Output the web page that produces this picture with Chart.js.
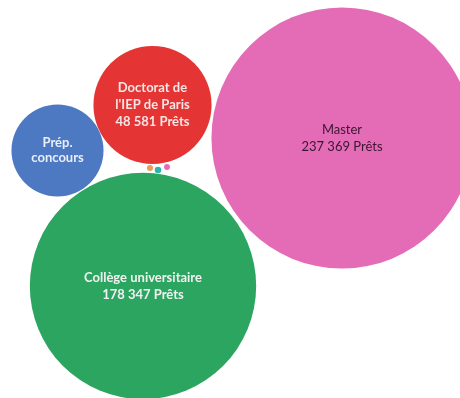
<!DOCTYPE html>
<html>
<head>
<meta charset="utf-8">
<script src="https://cdn.jsdelivr.net/npm/chart.js@4"></script>
<style>
  html, body { margin: 0; padding: 0; background: #fff; }
  #wrap { width: 460px; height: 398px; }
</style>
</head>
<body>
<div id="wrap"><canvas id="bulles"></canvas></div>
<script>
// Prêts par type de formation
const formations = ['Master', 'Collège universitaire', "Doctorat de l'IEP de Paris", 'Prép. concours', 'Autre 1', 'Autre 2', 'Autre 3'];
const prets = [237369, 178347, 48581, 29500, 130, 150, 120];
const etiquettes = [
  ['Master', '237 369 Prêts'],
  ['Collège universitaire', '178 347 Prêts'],
  ['Doctorat de', "l'IEP de Paris", '48 581 Prêts'],
  ['Prép.', 'concours'],
  [], [], []
];
// position des bulles (unités des axes)
const posX = [342, 143, 152.5, 57.5, 150, 158, 167];
const posY = [138, 286, 105, 150.5, 168, 170, 167];
const couleurs = ['#E46CB6', '#2CA560', '#E43434', '#4C79C1', '#EE9A5A', '#2DB3A6', '#E46CB6'];
const couleursTexte = ['#3B1530', '#F2F2F2', '#F4E6E6', '#E8EEF8', '#fff', '#fff', '#fff'];

const k = 0.268; // rayon = k * racine(prêts)

const labelsPlugin = {
  id: 'etiquettes',
  afterDatasetsDraw(chart) {
    const ctx = chart.ctx;
    const meta = chart.getDatasetMeta(0);
    ctx.save();
    ctx.textAlign = 'center';
    ctx.textBaseline = 'middle';
    meta.data.forEach((pt, i) => {
      const lignes = etiquettes[i];
      if (!lignes.length) return;
      const lh = i === 3 ? 15 : 17;
      ctx.font = (i === 0 ? '' : 'bold ') + '13px Lato, "Open Sans", sans-serif';
      ctx.fillStyle = couleursTexte[i];
      const y0 = pt.y - (lignes.length - 1) * lh / 2;
      lignes.forEach((t, j) => ctx.fillText(t, pt.x, y0 + j * lh));
    });
    ctx.restore();
  }
};

new Chart(document.getElementById('bulles'), {
  type: 'bubble',
  data: {
    labels: formations,
    datasets: [{
      data: prets.map((v, i) => ({ x: posX[i], y: posY[i], r: k * Math.sqrt(v) })),
      backgroundColor: couleurs,
      borderWidth: 0,
      hoverBorderWidth: 0,
      clip: false
    }]
  },
  options: {
    responsive: true,
    maintainAspectRatio: false,
    animation: false,
    layout: { padding: 0, autoPadding: false },
    plugins: { legend: { display: false }, tooltip: { enabled: false } },
    scales: {
      x: { type: 'linear', min: 0, max: 460, display: false },
      y: { type: 'linear', min: 0, max: 398, reverse: true, display: false }
    }
  },
  plugins: [labelsPlugin]
});
</script>
</body>
</html>
